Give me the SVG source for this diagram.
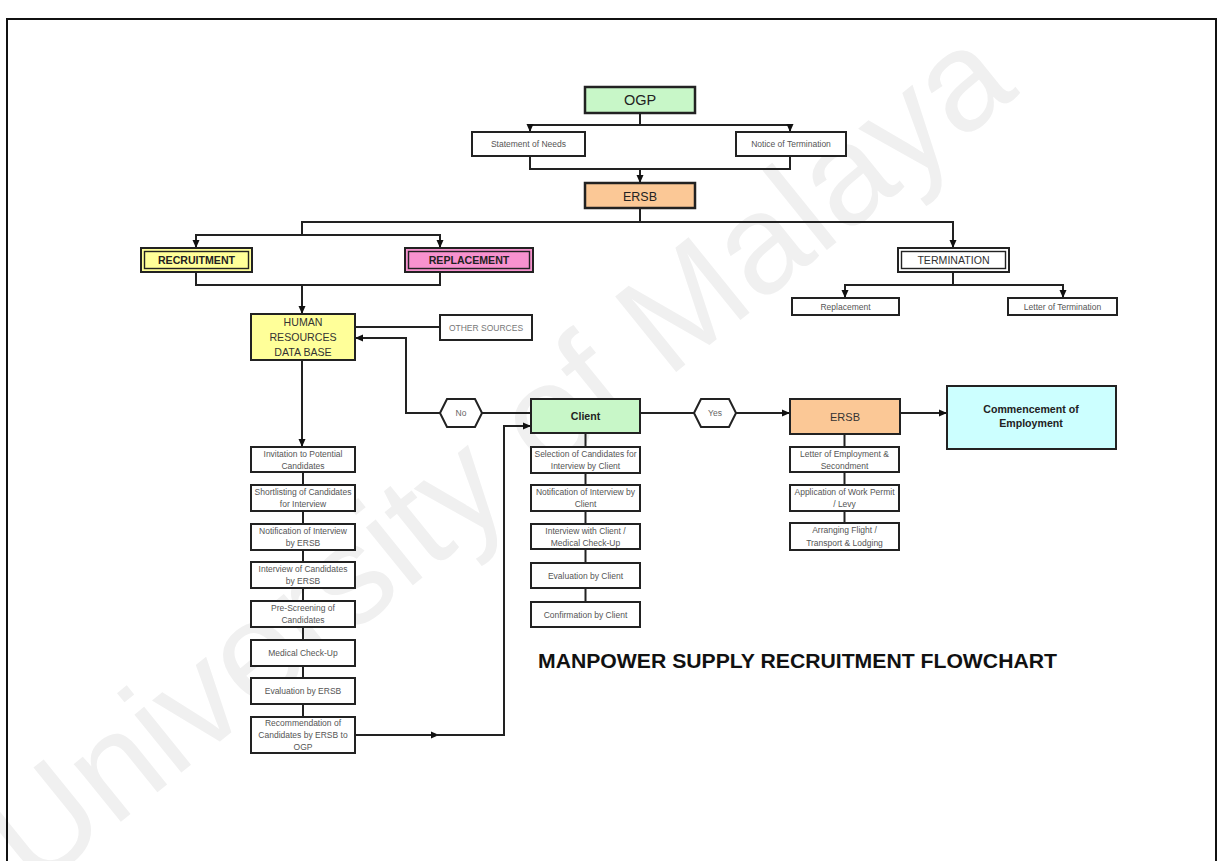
<svg xmlns="http://www.w3.org/2000/svg" width="1222" height="861" viewBox="0 0 1222 861">
<defs>
<marker id="arr" markerUnits="userSpaceOnUse" markerWidth="8" markerHeight="8" refX="7" refY="4" orient="auto">
<path d="M0,0.5 L8,4 L0,7.5 z" fill="#111"/>
</marker>
<style>
.box{fill:#fff;stroke:#222;stroke-width:2}
.inner{fill:none;stroke:#222;stroke-width:1.4}
.ln{fill:none;stroke:#222;stroke-width:2}
.t{font-family:"Liberation Sans",Arial,sans-serif;font-size:8.5px;fill:#555;text-anchor:middle}
.tm{font-family:"Liberation Sans",Arial,sans-serif;font-size:10.6px;fill:#333;text-anchor:middle}
.tb{font-family:"Liberation Sans",Arial,sans-serif;font-size:10.6px;font-weight:bold;fill:#222;text-anchor:middle}
</style>
</defs>
<rect width="1222" height="861" fill="#fff"/>
<text x="34" y="892" transform="rotate(-39 34 892)" font-family="Liberation Sans, Arial, sans-serif" font-size="141" fill="#f0f0f0">University of Malaya</text>
<rect x="7" y="19" width="1209" height="860" fill="none" stroke="#111" stroke-width="2"/>

<g id="connectors">
<path class="ln" d="M640,113 V125 H530 V131" marker-end="url(#arr)"/>
<path class="ln" d="M640,125 H790 V131" marker-end="url(#arr)"/>
<path class="ln" d="M530,156 V169 H640 V182" marker-end="url(#arr)"/>
<path class="ln" d="M790,156 V169 H640"/>
<path class="ln" d="M640,208 V222 H953 V247" marker-end="url(#arr)"/>
<path class="ln" d="M640,222 H302 V235 H196 V247" marker-end="url(#arr)"/>
<path class="ln" d="M302,235 H440 V247" marker-end="url(#arr)"/>
<path class="ln" d="M196,272 V285 H302 V313" marker-end="url(#arr)"/>
<path class="ln" d="M440,272 V285 H302"/>
<path class="ln" d="M355,327 H440"/>
<path class="ln" d="M532,413 H482"/>
<path class="ln" d="M440,413 H406 V338 H356" marker-end="url(#arr)"/>
<path class="ln" d="M302,360 V446" marker-end="url(#arr)"/>
<path class="ln" d="M303,472 V485 M303,511 V524 M303,550 V562 M303,588 V601 M303,627 V640 M303,666 V678 M303,704 V717"/>
<path class="ln" d="M355,735 H438" marker-end="url(#arr)"/>
<path class="ln" d="M436,735 H504 V426 H530" marker-end="url(#arr)"/>
<path class="ln" d="M585.5,433 V447 M585.5,473 V485 M585.5,511 V524 M585.5,549 V563 M585.5,588 V602"/>
<path class="ln" d="M640,413 H694"/>
<path class="ln" d="M736,413 H789" marker-end="url(#arr)"/>
<path class="ln" d="M900,413 H946" marker-end="url(#arr)"/>
<path class="ln" d="M844.5,434 V447 M844.5,472 V485 M844.5,511 V523"/>
<path class="ln" d="M953,272 V285 H845 V297" marker-end="url(#arr)"/>
<path class="ln" d="M953,285 H1063 V297" marker-end="url(#arr)"/>
</g>

<g id="ogp"><rect class="box" x="585" y="87" width="110" height="26" style="fill:#c8f7c8;stroke-width:2.5"/><text x="640" y="105" font-family="Liberation Sans, Arial, sans-serif" font-size="14.5" fill="#222" text-anchor="middle">OGP</text></g>
<g id="statement"><rect class="box" x="472" y="132" width="113" height="24"/><text class="t" x="528.5" y="147">Statement of Needs</text></g>
<g id="notice"><rect class="box" x="736" y="132" width="110" height="24"/><text class="t" x="791" y="147">Notice of Termination</text></g>
<g id="ersb"><rect class="box" x="585" y="183" width="110" height="25" style="fill:#fbc896;stroke-width:2.5"/><text x="640" y="200.5" font-family="Liberation Sans, Arial, sans-serif" font-size="12.5" fill="#222" text-anchor="middle">ERSB</text></g>

<g id="recruitment"><rect class="box" x="141" y="248" width="111" height="24" style="fill:#ffff99"/><rect class="inner" x="144.5" y="251.5" width="104" height="17"/><text class="tb" x="196.5" y="264">RECRUITMENT</text></g>
<g id="replacement"><rect class="box" x="405" y="248" width="128" height="24" style="fill:#f792cf"/><rect class="inner" x="408.5" y="251.5" width="121" height="17"/><text class="tb" x="469" y="264">REPLACEMENT</text></g>
<g id="termination"><rect class="box" x="898" y="248" width="111" height="24"/><rect class="inner" x="901.5" y="251.5" width="104" height="17"/><text class="tm" x="953.5" y="264">TERMINATION</text></g>
<g id="term-replacement"><rect class="box" x="792" y="298" width="107" height="17"/><text class="t" x="845.5" y="309.5">Replacement</text></g>
<g id="term-letter"><rect class="box" x="1008" y="298" width="109" height="17"/><text class="t" x="1062.5" y="309.5">Letter of Termination</text></g>

<g id="hrdb"><rect class="box" x="251" y="314" width="104" height="46" style="fill:#ffff99"/><text class="tm" x="303" y="325.5">HUMAN</text><text class="tm" x="303" y="340.5">RESOURCES</text><text class="tm" x="303" y="355.5">DATA BASE</text></g>
<g id="other"><rect class="box" x="440" y="315" width="92" height="25"/><text class="t" x="486" y="330.5" style="fill:#777">OTHER SOURCES</text></g>

<g id="no"><polygon points="440,413 447,399 475,399 482,413 475,427 447,427" fill="#fff" stroke="#222" stroke-width="2"/><text class="t" x="461" y="416" style="fill:#666">No</text></g>
<g id="yes"><polygon points="694,413 701,399 729,399 736,413 729,427 701,427" fill="#fff" stroke="#222" stroke-width="2"/><text class="t" x="715" y="416" style="fill:#666">Yes</text></g>

<g id="client"><rect class="box" x="531" y="399" width="109" height="34" style="fill:#c8f7c8"/><text class="tb" x="585.5" y="420">Client</text></g>
<g id="ersb2"><rect class="box" x="790" y="399" width="110" height="35" style="fill:#fbc896"/><text class="tm" x="845" y="420.5" style="font-size:11px">ERSB</text></g>
<g id="commencement"><rect class="box" x="947" y="386" width="169" height="63" style="fill:#ccffff"/><text class="tb" x="1031" y="413">Commencement of</text><text class="tb" x="1031" y="427">Employment</text></g>

<g id="l1"><rect class="box" x="251" y="447" width="104" height="25"/><text class="t" x="303" y="456.5">Invitation to Potential</text><text class="t" x="303" y="468.5">Candidates</text></g>
<g id="l2"><rect class="box" x="251" y="485" width="104" height="26"/><text class="t" x="303" y="494.5">Shortlisting of Candidates</text><text class="t" x="303" y="507">for Interview</text></g>
<g id="l3"><rect class="box" x="251" y="524" width="104" height="26"/><text class="t" x="303" y="533.5">Notification of Interview</text><text class="t" x="303" y="546">by ERSB</text></g>
<g id="l4"><rect class="box" x="251" y="562" width="104" height="26"/><text class="t" x="303" y="571.5">Interview of Candidates</text><text class="t" x="303" y="584">by ERSB</text></g>
<g id="l5"><rect class="box" x="251" y="601" width="104" height="26"/><text class="t" x="303" y="610.5">Pre-Screening of</text><text class="t" x="303" y="623">Candidates</text></g>
<g id="l6"><rect class="box" x="251" y="640" width="104" height="26"/><text class="t" x="303" y="655.5">Medical Check-Up</text></g>
<g id="l7"><rect class="box" x="251" y="678" width="104" height="26"/><text class="t" x="303" y="693.5">Evaluation by ERSB</text></g>
<g id="l8"><rect class="box" x="251" y="717" width="104" height="36"/><text class="t" x="303" y="726">Recommendation of</text><text class="t" x="303" y="738">Candidates by ERSB to</text><text class="t" x="303" y="749.5">OGP</text></g>

<g id="c1"><rect class="box" x="531" y="447" width="109" height="26"/><text class="t" x="585.5" y="456.5">Selection of Candidates for</text><text class="t" x="585.5" y="469">Interview by Client</text></g>
<g id="c2"><rect class="box" x="531" y="485" width="109" height="26"/><text class="t" x="585.5" y="494.5">Notification of Interview by</text><text class="t" x="585.5" y="507">Client</text></g>
<g id="c3"><rect class="box" x="531" y="524" width="109" height="25"/><text class="t" x="585.5" y="533.5">Interview with Client /</text><text class="t" x="585.5" y="545.5">Medical Check-Up</text></g>
<g id="c4"><rect class="box" x="531" y="563" width="109" height="25"/><text class="t" x="585.5" y="578.5">Evaluation by Client</text></g>
<g id="c5"><rect class="box" x="531" y="602" width="109" height="25"/><text class="t" x="585.5" y="617.5">Confirmation by Client</text></g>

<g id="e1"><rect class="box" x="790" y="447" width="109" height="25"/><text class="t" x="844.5" y="456.5">Letter of Employment &amp;</text><text class="t" x="844.5" y="468.5">Secondment</text></g>
<g id="e2"><rect class="box" x="790" y="485" width="109" height="26"/><text class="t" x="844.5" y="494.5">Application of Work Permit</text><text class="t" x="844.5" y="507">/ Levy</text></g>
<g id="e3"><rect class="box" x="790" y="523" width="109" height="27"/><text class="t" x="844.5" y="533">Arranging Flight /</text><text class="t" x="844.5" y="546">Transport &amp; Lodging</text></g>

<text x="538" y="668" font-family="Liberation Sans, Arial, sans-serif" font-size="21" font-weight="bold" fill="#111" textLength="519" lengthAdjust="spacingAndGlyphs">MANPOWER SUPPLY RECRUITMENT FLOWCHART</text>
</svg>
